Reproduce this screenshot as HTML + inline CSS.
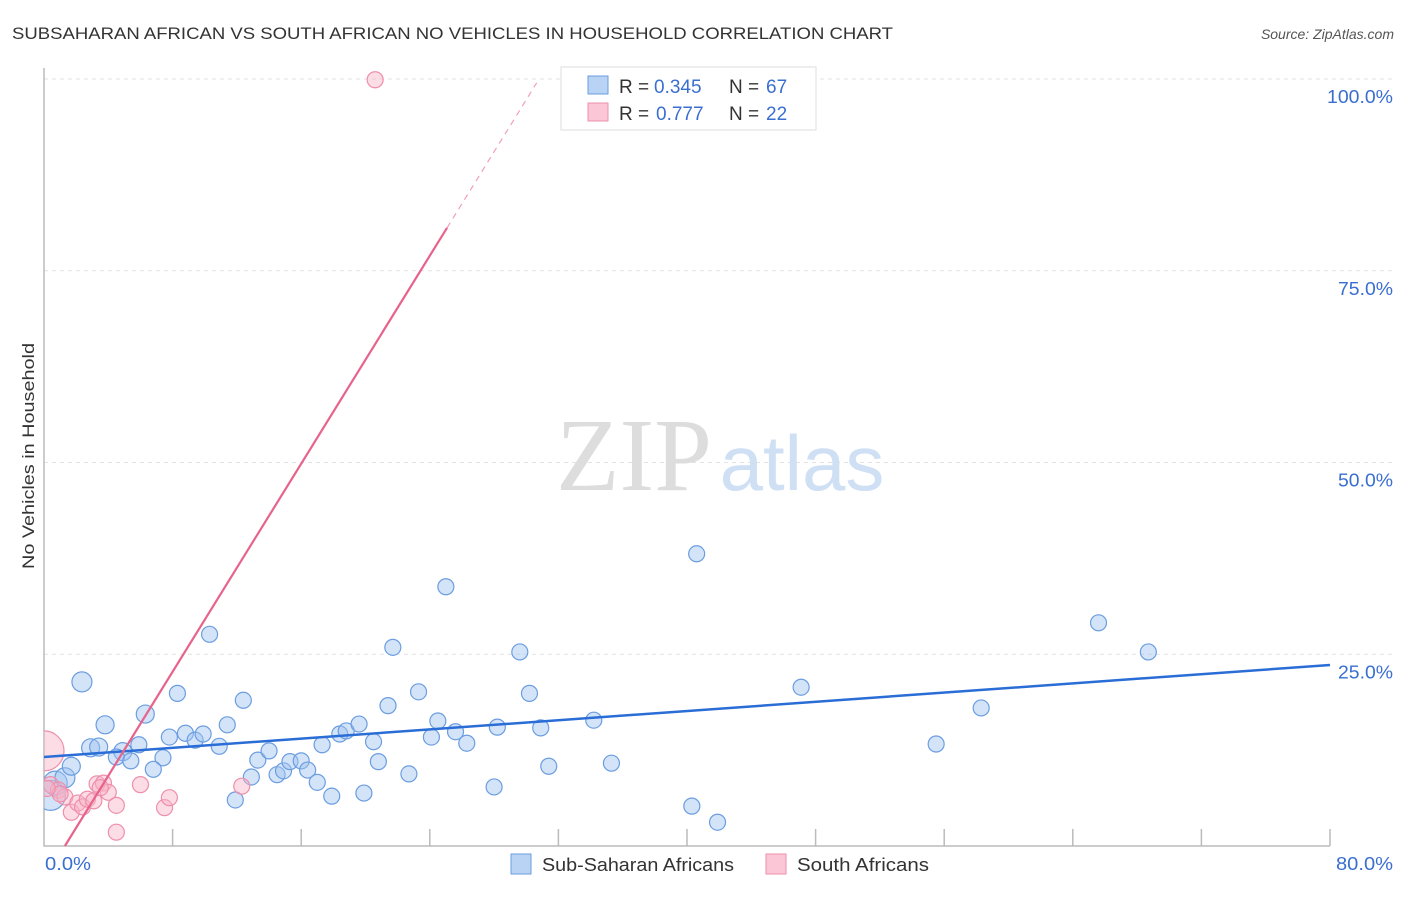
<!DOCTYPE html>
<html><head><meta charset="utf-8"><style>
body{margin:0;background:#fff;font-family:"Liberation Sans",sans-serif;}
svg text{font-family:"Liberation Sans",sans-serif;}
</style></head><body>
<svg id="chart" width="1406" height="892">
<defs><clipPath id="plotclip"><rect x="44" y="60" width="1362" height="786"/></clipPath></defs>
<text x="12" y="39" font-size="17" fill="#333" textLength="881" lengthAdjust="spacingAndGlyphs">SUBSAHARAN AFRICAN VS SOUTH AFRICAN NO VEHICLES IN HOUSEHOLD CORRELATION CHART</text>
<text x="1394" y="39" font-size="14" fill="#555" font-style="italic" text-anchor="end">Source: ZipAtlas.com</text>
<g id="grid"></g>
<g>
<text x="634" y="490" font-size="104" fill="#ddd" text-anchor="middle" style="font-family:'Liberation Serif',serif">ZIP</text>
<text x="802" y="490" font-size="78" fill="#cfe0f5" text-anchor="middle">atlas</text>
</g>
<g id="axes"></g>
<g id="pts" clip-path="url(#plotclip)"></g>
<g id="lines"></g>
<text transform="translate(34,456) rotate(-90)" font-size="17" fill="#333" text-anchor="middle" textLength="226" lengthAdjust="spacingAndGlyphs">No Vehicles in Household</text>
<g>
<rect x="561" y="67" width="255" height="63" fill="#fff" stroke="#ddd"/>
<rect x="588" y="76" width="20" height="18" fill="#b9d3f5" stroke="#6b9de0"/>
<rect x="588" y="103" width="20" height="18" fill="#fbc6d5" stroke="#ee8fab"/>
<text x="619" y="93" font-size="19" fill="#333">R =</text>
<text x="654" y="93" font-size="19" fill="#3a6fd0">0.345</text>
<text x="729" y="93" font-size="19" fill="#333">N =</text>
<text x="766" y="93" font-size="19" fill="#3a6fd0">67</text>
<text x="619" y="120" font-size="19" fill="#333">R =</text>
<text x="656" y="120" font-size="19" fill="#3a6fd0">0.777</text>
<text x="729" y="120" font-size="19" fill="#333">N =</text>
<text x="766" y="120" font-size="19" fill="#3a6fd0">22</text>
</g>
<g>
<rect x="511" y="854" width="20" height="20" fill="#b9d3f5" stroke="#6b9de0"/>
<text x="542" y="871" font-size="18" fill="#333" textLength="192" lengthAdjust="spacingAndGlyphs">Sub-Saharan Africans</text>
<rect x="766" y="854" width="20" height="20" fill="#fbc6d5" stroke="#ee8fab"/>
<text x="797" y="871" font-size="18" fill="#333" textLength="132" lengthAdjust="spacingAndGlyphs">South Africans</text>
</g>
</svg>
<script>
const blueX=[2.36,3.8,6.3,8.3,10.3,12.4,11.4,2.9,3.4,4.9,4.5,5.4,5.9,7.4,6.8,7.8,8.8,9.4,9.9,10.9,11.9,12.9,13.3,14.0,14.5,14.9,15.3,16.0,16.4,17.0,17.3,17.9,18.4,18.8,19.6,19.9,20.5,20.8,21.4,21.7,22.7,23.3,24.1,24.5,25.0,25.6,26.3,28.0,28.2,29.6,30.2,30.9,31.4,34.2,35.3,40.3,40.6,41.9,47.1,55.5,58.3,65.6,68.7,0.4,0.7,1.3,1.7];
const blueY=[21.4,15.8,17.2,19.9,27.6,19.0,15.8,12.8,12.9,12.3,11.6,11.1,13.2,11.5,10.0,14.2,14.7,13.8,14.6,13.0,6.0,9.0,11.2,12.4,9.3,9.8,11.0,11.1,9.9,8.3,13.2,6.5,14.6,15.0,15.9,6.9,13.6,11.0,18.3,25.9,9.4,20.1,14.2,16.3,33.8,14.9,13.4,7.7,15.5,25.3,19.9,15.4,10.4,16.4,10.8,5.2,38.1,3.1,20.7,13.3,18.0,29.1,25.3,6.6,8.2,8.9,10.4];
const blueR=[10,9,9,8,8,8,8,9,9,9,8,8,8,8,8,8,8,8,8,8,8,8,8,8,8,8,8,8,8,8,8,8,8,8,8,8,8,8,8,8,8,8,8,8,8,8,8,8,8,8,8,8,8,8,8,8,8,8,8,8,8,8,8,15,12,10,9];
const pinkX=[20.6,0,0.4,0.9,1.3,1.7,2.1,2.4,2.7,3.1,3.3,3.7,4.0,4.5,4.5,6.0,7.5,7.8,12.3,1.0,0.2,3.5];
const pinkY=[99.9,12.4,8.0,7.3,6.4,4.4,5.6,5.1,6.1,5.9,8.1,8.2,7.0,5.3,1.8,8.0,5.0,6.3,7.8,6.8,7.5,7.6];
const pinkR=[8,20,8,8,8,8,8,8,8,8,8,8,8,8,8,8,8,8,8,8,8,8];
const yTicks=[25,50,75,100];
const yTickLabels=["25.0%","50.0%","75.0%","100.0%"];
const xTicks=[0,8,16,24,32,40,48,56,64,72,80];
const blueTrend=[11.6,23.6];
const pinkTrend={slope:3.39,intercept:-4.4};
const NS="http://www.w3.org/2000/svg";
const X=v=>44+v/80*1286, Y=v=>846-v/100*767;
function mk(p,t,a){const e=document.createElementNS(NS,t);for(const k in a)e.setAttribute(k,a[k]);document.getElementById(p).appendChild(e);return e;}
yTicks.forEach((t,i)=>{
 const g=mk('grid','line',{x1:44,x2:1394,y1:Y(t),y2:Y(t),stroke:'#e2e2e2','stroke-dasharray':'4,4'});
 
 
 const l=mk('axes','text',{x:1393,y:Y(t)+24,'font-size':18,fill:'#3a6fd0','text-anchor':'end',textLength:yTickLabels[i].length*11,lengthAdjust:'spacingAndGlyphs'});
 l.textContent=yTickLabels[i];
 
 
});
const ax=mk('axes','path',{d:'M44,68 V846 H1330',fill:'none',stroke:'#bbb','stroke-width':1.5});


xTicks.slice(1).forEach(t=>{const e=mk('axes','line',{x1:X(t),x2:X(t),y1:829,y2:846,stroke:'#bbb','stroke-width':1.5});
 
 });
const x0=mk('axes','text',{x:45,y:870,'font-size':18,fill:'#3a6fd0',textLength:46,lengthAdjust:'spacingAndGlyphs'});x0.textContent='0.0%';


const x1=mk('axes','text',{x:1393,y:870,'font-size':18,fill:'#3a6fd0','text-anchor':'end',textLength:57,lengthAdjust:'spacingAndGlyphs'});x1.textContent='80.0%';


blueX.forEach((v,i)=>{const c=mk('pts','circle',{cx:X(v),cy:Y(blueY[i]),r:blueR[i],fill:'rgba(160,196,240,0.45)',stroke:'#6b9de0','stroke-width':1.2});
 
 });
pinkX.forEach((v,i)=>{const c=mk('pts','circle',{cx:X(v),cy:Y(pinkY[i]),r:pinkR[i],fill:'rgba(248,180,200,0.45)',stroke:'#ee8fab','stroke-width':1.2});
 
 });
const bl=mk('lines','line',{x1:X(0),y1:Y(blueTrend[0]),x2:X(80),y2:Y(blueTrend[1]),stroke:'#2a6dd6','stroke-width':2.5});


const pf=y=>(y-pinkTrend.intercept)/pinkTrend.slope;
const pl=mk('lines','line',{x1:X(pf(0)),y1:Y(0),x2:X(pf(80.6)),y2:Y(80.6),stroke:'#e8638c','stroke-width':2.2});


const pd=mk('lines','line',{x1:X(pf(80.6)),y1:Y(80.6),x2:X(pf(99.5)),y2:Y(99.5),stroke:'#f0a0b8','stroke-width':1.2,'stroke-dasharray':'6,5'});


</script>
</body></html>
